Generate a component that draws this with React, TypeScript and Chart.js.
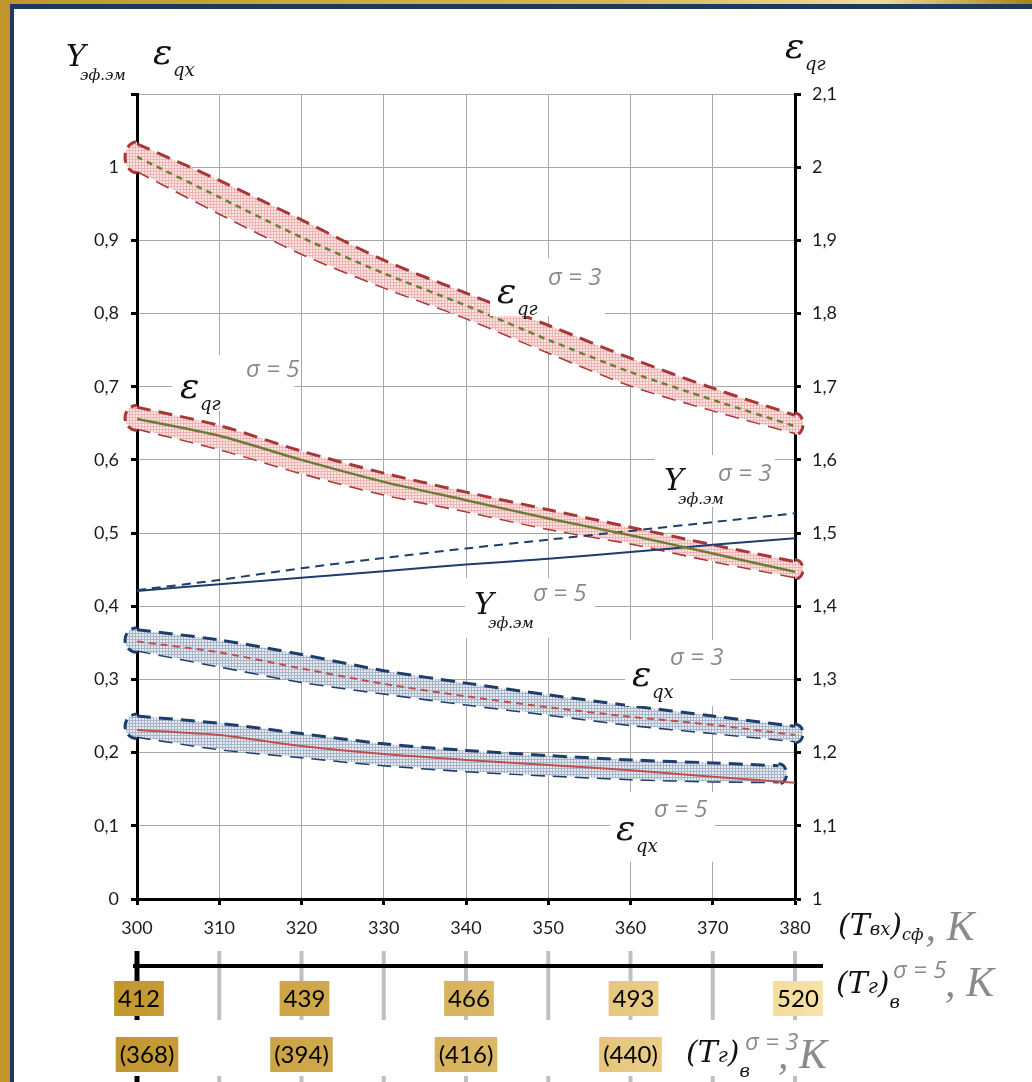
import React, { useEffect, useRef } from 'react';
import { Chart, registerables } from 'chart.js';
Chart.register(...registerables);

// ---- data ----
const temps = [300, 310, 320, 330, 340, 350, 360, 370, 380];
const tempsEqx5Band = [300, 310, 320, 330, 340, 350, 360, 370, 378];

const eqg3Center = [1.014, 0.959, 0.904, 0.855, 0.811, 0.764, 0.72, 0.682, 0.646];
const eqg3Upper = [1.032, 0.982, 0.928, 0.873, 0.828, 0.784, 0.739, 0.698, 0.661];
const eqg3Lower = [0.995, 0.937, 0.882, 0.836, 0.794, 0.747, 0.702, 0.668, 0.637];

const eqg5Center = [0.656, 0.633, 0.6, 0.57, 0.545, 0.52, 0.497, 0.472, 0.447];
const eqg5Upper = [0.672, 0.647, 0.612, 0.582, 0.556, 0.532, 0.508, 0.484, 0.461];
const eqg5Lower = [0.643, 0.615, 0.582, 0.553, 0.53, 0.506, 0.486, 0.462, 0.44];

const ySigma5 = [0.421, 0.43, 0.439, 0.448, 0.457, 0.465, 0.474, 0.484, 0.493];
const ySigma3 = [0.422, 0.436, 0.452, 0.466, 0.479, 0.491, 0.503, 0.515, 0.527];

const eqx3Center = [0.352, 0.337, 0.315, 0.294, 0.277, 0.262, 0.249, 0.238, 0.224];
const eqx3Upper = [0.368, 0.354, 0.334, 0.312, 0.295, 0.279, 0.264, 0.25, 0.236];
const eqx3Lower = [0.34, 0.318, 0.297, 0.281, 0.266, 0.252, 0.238, 0.227, 0.216];

const eqx5Center = [0.231, 0.224, 0.209, 0.198, 0.19, 0.183, 0.176, 0.167, 0.159];
const eqx5Upper = [0.25, 0.24, 0.226, 0.212, 0.203, 0.196, 0.19, 0.186, 0.182];
const eqx5Lower = [0.222, 0.205, 0.194, 0.183, 0.175, 0.169, 0.164, 0.161, 0.16];

const tg5Labels = ['412', '439', '466', '493', '520'];
const tg5At = [300, 320, 340, 360, 380];
const tg3Labels = ['(368)', '(394)', '(416)', '(440)'];
const tg3At = [300, 320, 340, 360];

const fmt = (v: number) => String(Math.round(v * 10) / 10).replace('.', ',');

const HAND = '"DejaVu Serif", serif';
const GRAYF = '"Open Sans", sans-serif';
const KF = '"Liberation Serif", serif';
const GRAY = '#8a8a8a';

function mkPattern(bg: string, line: string) {
  const c = document.createElement('canvas');
  c.width = 3;
  c.height = 3;
  const g = c.getContext('2d')!;
  g.fillStyle = bg;
  g.fillRect(0, 0, 3, 3);
  g.fillStyle = line;
  g.fillRect(0, 0, 3, 1);
  g.fillRect(0, 0, 1, 3);
  return g.createPattern(c, 'repeat')!;
}

export default function App() {
  const ref = useRef<HTMLCanvasElement>(null);
  useEffect(() => {
    const canvas = ref.current!;
    const pink = mkPattern('#fbe6e6', '#eeb4b4');
    const blue = mkPattern('#e7ebf2', '#a7b3c7');
    const pts = (xs: number[], ys: number[]) => xs.map((x, i) => ({ x, y: ys[i] }));
    const RED = '#a83636';
    const NAVY = '#1f3d6a';

    const line = (data: any, color: string, width: number, dash: number[] = []) => ({
      data,
      borderColor: color,
      borderWidth: width,
      borderDash: dash,
      pointRadius: 0,
      tension: 0.25,
      fill: false,
    });
    const edge = (data: any, color: string, bg: any, isUpper: boolean) => ({
      data,
      borderColor: color,
      borderWidth: 3,
      borderDash: [14, 8],
      pointRadius: 0,
      tension: 0.3,
      backgroundColor: bg,
      fill: isUpper ? '+1' : false,
    });

    const bands = [
      { u: 6, l: 7, color: RED, bg: pink, right: true },
      { u: 8, l: 9, color: RED, bg: pink, right: true },
      { u: 10, l: 11, color: NAVY, bg: blue, right: true },
      { u: 12, l: 13, color: NAVY, bg: blue, right: true },
    ];

    const framePlugin = {
      id: 'frame',
      beforeDraw(chart: any) {
        const ctx = chart.ctx as CanvasRenderingContext2D;
        ctx.save();
        ctx.fillStyle = '#ffffff';
        ctx.fillRect(0, 0, 1032, 1082);
        const gTop = ctx.createLinearGradient(0, 0, 1032, 0);
        gTop.addColorStop(0, '#c0962c');
        gTop.addColorStop(0.6, '#d9b55a');
        gTop.addColorStop(0.85, '#f1dc9a');
        gTop.addColorStop(1, '#a8801f');
        ctx.fillStyle = gTop;
        ctx.fillRect(0, 0, 1032, 4);
        ctx.fillStyle = '#1c3a60';
        ctx.fillRect(10, 4, 1022, 5);
        ctx.fillStyle = '#c0962c';
        ctx.fillRect(0, 0, 10, 1082);
        ctx.fillStyle = '#1c3a60';
        ctx.fillRect(10, 4, 4, 1078);
        ctx.restore();
      },
      beforeDatasetsDraw(chart: any) {
        const ctx = chart.ctx as CanvasRenderingContext2D;
        ctx.save();
        for (const b of bands) {
          const mu = chart.getDatasetMeta(b.u).data;
          const ml = chart.getDatasetMeta(b.l).data;
          const drawCap = (pu: any, pl: any, left: boolean) => {
            const cx = (pu.x + pl.x) / 2;
            const cy = (pu.y + pl.y) / 2;
            const ry = Math.abs(pl.y - pu.y) / 2 + 2;
            const rx = left ? 12 : 8;
            ctx.beginPath();
            if (left) ctx.ellipse(cx, cy, rx, ry, 0, Math.PI / 2, (3 * Math.PI) / 2);
            else ctx.ellipse(cx, cy, rx, ry, 0, -Math.PI / 2, Math.PI / 2);
            ctx.fillStyle = b.bg;
            ctx.fill();
            ctx.setLineDash([10, 6]);
            ctx.lineWidth = 3;
            ctx.strokeStyle = b.color;
            ctx.stroke();
          };
          drawCap(mu[0], ml[0], true);
          if (b.right) drawCap(mu[mu.length - 1], ml[ml.length - 1], false);
        }
        ctx.restore();
      },
    };

    const overlayPlugin = {
      id: 'overlay',
      afterDraw(chart: any) {
        const ctx = chart.ctx as CanvasRenderingContext2D;
        const xs = chart.scales.x;
        ctx.save();
        // secondary axis below
        for (const t of temps) {
          const px = xs.getPixelForValue(t);
          ctx.fillStyle = t === 300 ? '#000' : '#c0c0c0';
          const w = t === 300 ? 5 : 4;
          ctx.fillRect(px - w / 2, 951, w, 69);
          ctx.fillRect(px - w / 2, 1076, w, 6);
        }
        ctx.fillStyle = '#000';
        ctx.fillRect(133, 964, 690, 4);

        const grad = ctx.createLinearGradient(116, 0, 823, 0);
        grad.addColorStop(0, '#c2972e');
        grad.addColorStop(0.5, '#d9b560');
        grad.addColorStop(1, '#f8e2a8');
        ctx.font = '24px Lato, sans-serif';
        ctx.textAlign = 'center';
        ctx.textBaseline = 'middle';
        tg5Labels.forEach((s, i) => {
          const px = xs.getPixelForValue(tg5At[i]) + (i === 0 ? 2 : 3);
          const w = ctx.measureText(s).width + 8;
          ctx.fillStyle = grad;
          ctx.fillRect(px - w / 2, 981, w, 35);
          ctx.fillStyle = '#000';
          ctx.fillText(s, px, 999);
        });
        tg3Labels.forEach((s, i) => {
          const px = xs.getPixelForValue(tg3At[i]) + (i === 0 ? 10 : 0);
          const w = ctx.measureText(s).width + 8;
          ctx.fillStyle = grad;
          ctx.fillRect(px - w / 2, 1037, w, 35);
          ctx.fillStyle = '#000';
          ctx.fillText(s, px, 1055);
        });

        ctx.textAlign = 'left';
        ctx.textBaseline = 'alphabetic';
        const white = (x: number, y: number, w: number, h: number) => {
          ctx.fillStyle = '#fff';
          ctx.fillRect(x, y, w, h);
        };
        const txt = (s: string, x: number, y: number, font: string, color = '#111') => {
          ctx.font = font;
          ctx.fillStyle = color;
          ctx.fillText(s, x, y);
          return ctx.measureText(s).width;
        };
        const eps = (x: number, y: number, sub: string) => {
          txt('ε', x, y, `italic 36px ${HAND}`);
          txt(sub, x + 20, y + 12, `italic 18px ${HAND}`);
        };
        const yef = (x: number, y: number) => {
          txt('Y', x, y, `italic 30px ${HAND}`);
          txt('эф.эм', x + 14, y + 14, `italic 15px ${HAND}`);
        };
        const sig = (s: string, x: number, y: number) => txt(s, x, y, `italic 24px ${GRAYF}`, GRAY);

        // axis titles
        yef(66, 66);
        eps(153, 64, 'qх');
        eps(785, 58, 'qг');

        // curve labels
        white(490, 258, 115, 58);
        eps(497, 303, 'qг');
        sig('σ = 3', 548, 285);

        white(172, 355, 122, 56);
        eps(180, 398, 'qг');
        sig('σ = 5', 246, 377);

        white(655, 455, 120, 52);
        yef(664, 490);
        sig('σ = 3', 718, 481);

        white(465, 578, 130, 60);
        yef(474, 614);
        sig('σ = 5', 533, 601);

        white(625, 640, 105, 66);
        eps(632, 686, 'qх');
        sig('σ = 3', 670, 665);

        white(610, 792, 105, 70);
        eps(616, 840, 'qх');
        sig('σ = 5', 654, 817);

        // bottom-right axis titles
        let w = txt('(T', 838, 935, `italic 30px ${HAND}`);
        w += txt('вх', 838 + w, 935, `italic 18px ${HAND}`);
        w += txt(')', 838 + w, 935, `italic 30px ${HAND}`);
        w += txt('сф', 838 + w, 940, `italic 16px ${HAND}`);
        txt(', K', 838 + w + 2, 940, `italic 42px ${KF}`, GRAY);

        w = txt('(T', 836, 993, `italic 30px ${HAND}`);
        w += txt('г', 836 + w, 993, `italic 20px ${HAND}`);
        w += txt(')', 836 + w, 993, `italic 30px ${HAND}`);
        txt('в', 836 + w, 1008, `italic 18px ${HAND}`);
        sig('σ = 5', 893, 978);
        txt(', K', 945, 996, `italic 42px ${KF}`, GRAY);

        w = txt('(T', 686, 1062, `italic 30px ${HAND}`);
        w += txt('г', 686 + w, 1062, `italic 20px ${HAND}`);
        w += txt(')', 686 + w, 1062, `italic 30px ${HAND}`);
        txt('в', 686 + w, 1077, `italic 18px ${HAND}`);
        sig('σ = 3', 745, 1050);
        txt(', K', 778, 1068, `italic 42px ${KF}`, GRAY);
        ctx.restore();
      },
    };

    const chart = new Chart(canvas, {
      type: 'line',
      data: {
        datasets: [
          line(pts(temps, eqg3Center), '#6f7c34', 2.5, [6, 5]),
          line(pts(temps, eqg5Center), '#6f7a36', 2.5),
          line(pts(temps, ySigma5), NAVY, 2),
          line(pts(temps, ySigma3), NAVY, 2, [9, 6]),
          line(pts(temps, eqx3Center), '#c0504d', 2, [7, 5]),
          line(pts(temps, eqx5Center), '#c0504d', 2),
          edge(pts(temps, eqg3Upper), RED, pink, true),
          edge(pts(temps, eqg3Lower), RED, pink, false),
          edge(pts(temps, eqg5Upper), RED, pink, true),
          edge(pts(temps, eqg5Lower), RED, pink, false),
          edge(pts(temps, eqx3Upper), NAVY, blue, true),
          edge(pts(temps, eqx3Lower), NAVY, blue, false),
          edge(pts(tempsEqx5Band, eqx5Upper), NAVY, blue, true),
          edge(pts(tempsEqx5Band, eqx5Lower), NAVY, blue, false),
        ] as any,
      },
      options: {
        animation: false,
        responsive: false,
        devicePixelRatio: 1,
        layout: { padding: { top: 94, left: 0, right: 0, bottom: 0 } },
        plugins: { legend: { display: false }, tooltip: { enabled: false } },
        scales: {
          x: {
            type: 'linear',
            min: 300,
            max: 380,
            ticks: { stepSize: 10, color: '#1a1a1a', font: { family: 'Lato', size: 18 }, padding: 12 },
            grid: { color: '#a8a8a8', lineWidth: 1, tickColor: '#000', tickWidth: 3, tickLength: 6 },
            border: { color: '#000', width: 3 },
            afterFit: (s: any) => { s.height = 183; },
          },
          y: {
            type: 'linear',
            position: 'left',
            min: 0,
            max: 1.1,
            ticks: {
              stepSize: 0.1,
              color: '#1a1a1a',
              font: { family: 'Lato', size: 18 },
              padding: 12,
              callback: (v: any) => (v > 1.05 ? '' : fmt(v)),
            },
            grid: { color: '#a8a8a8', lineWidth: 1, tickColor: '#000', tickWidth: 3, tickLength: 6 },
            border: { color: '#000', width: 3 },
            afterFit: (s: any) => { s.width = 137; },
          },
          y2: {
            type: 'linear',
            position: 'right',
            min: 1,
            max: 2.1,
            ticks: {
              stepSize: 0.1,
              color: '#1a1a1a',
              font: { family: 'Lato', size: 18 },
              padding: 11,
              callback: (v: any) => fmt(v),
            },
            grid: { drawOnChartArea: false, tickColor: '#000', tickWidth: 3, tickLength: 6 },
            border: { color: '#000', width: 3 },
            afterFit: (s: any) => { s.width = 237; },
          },
        },
      } as any,
      plugins: [framePlugin, overlayPlugin],
    });
    return () => chart.destroy();
  }, []);
  return (
    <div style={{ position: 'absolute', left: 0, top: 0, width: 1032, height: 1082, overflow: 'hidden' }}>
      <canvas ref={ref} width={1032} height={1082} style={{ width: 1032, height: 1082, display: 'block' }} />
    </div>
  );
}
